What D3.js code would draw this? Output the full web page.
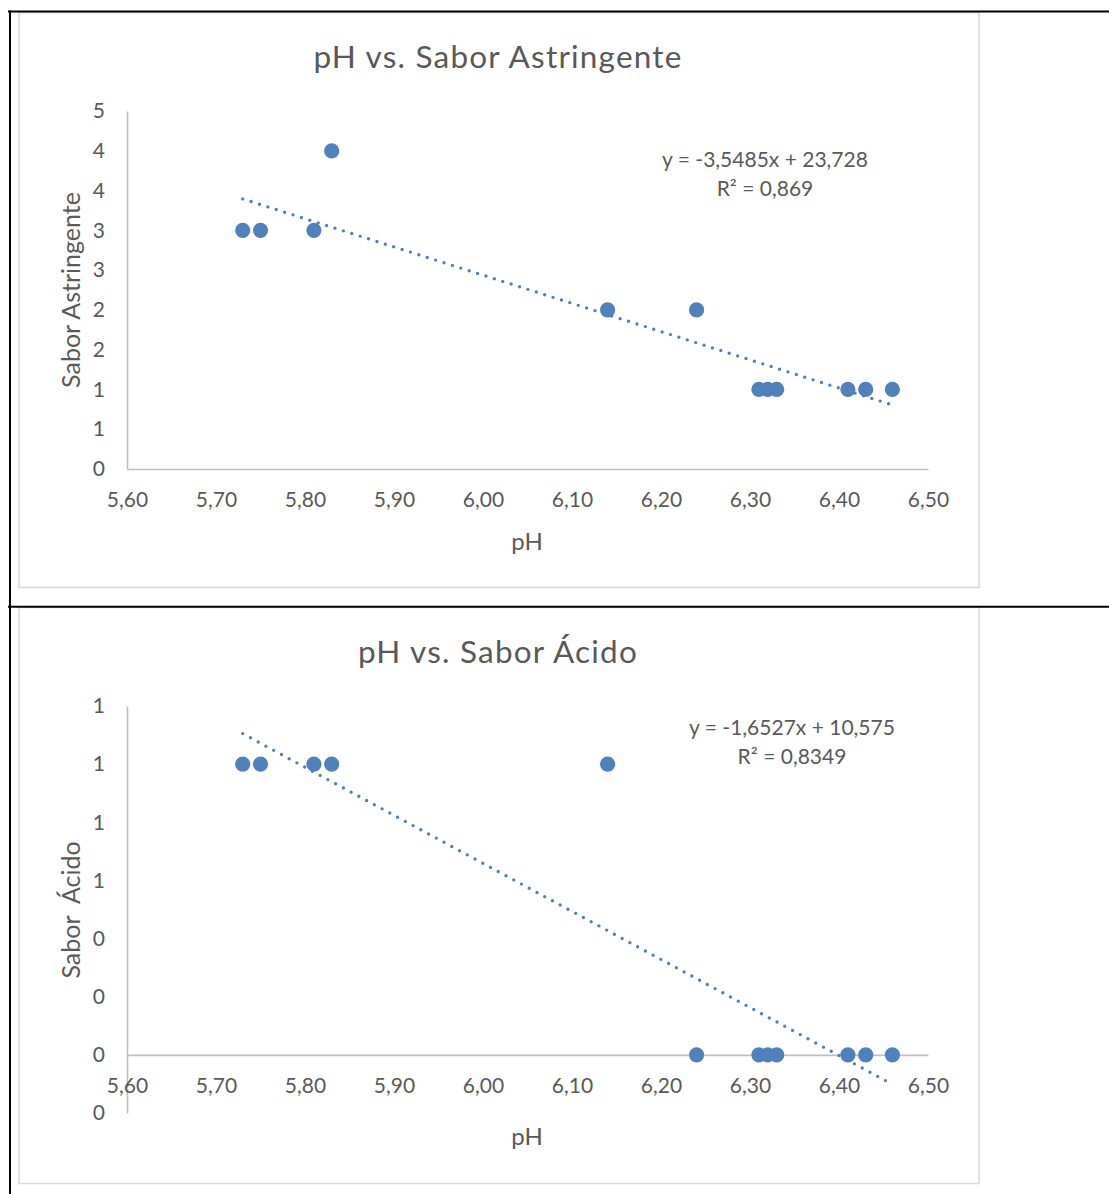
<!DOCTYPE html>
<html>
<head>
<meta charset="utf-8">
<script src="https://cdn.jsdelivr.net/npm/d3@7/dist/d3.min.js"></script>
<style>
  html, body { margin: 0; padding: 0; background: #ffffff; }
  svg { display: block; }
  text { font-family: Lato, "Open Sans", sans-serif; fill: #595959; }
</style>
</head>
<body>
<svg id="page" width="1109" height="1194"></svg>
<script>
// pH readings shared by both tastings
const phValues = [5.73, 5.75, 5.81, 5.83, 6.14, 6.24, 6.31, 6.32, 6.33, 6.41, 6.43, 6.46];

// Panel 1: astringent taste scores
const astringentScores = [3, 3, 3, 4, 2, 2, 1, 1, 1, 1, 1, 1];
const astringentTrend = { slope: -3.5485, intercept: 23.728, r2: "0,869" };
const astringentYTicks = [0, 0.5, 1, 1.5, 2, 2.5, 3, 3.5, 4, 4.5];
const astringentYLabels = ["0", "1", "1", "2", "2", "3", "3", "4", "4", "5"];

// Panel 2: acid taste scores
const acidScores = [1, 1, 1, 1, 1, 0, 0, 0, 0, 0, 0, 0];
const acidTrend = { slope: -1.6527, intercept: 10.575, r2: "0,8349" };
const acidYTicks = [-0.2, 0, 0.2, 0.4, 0.6, 0.8, 1.0, 1.2];
const acidYLabels = ["0", "0", "0", "0", "1", "1", "1", "1"];

// Shared pH axis
const xTicks = [5.6, 5.7, 5.8, 5.9, 6.0, 6.1, 6.2, 6.3, 6.4, 6.5];
const xTickLabels = ["5,60", "5,70", "5,80", "5,90", "6,00", "6,10", "6,20", "6,30", "6,40", "6,50"];

const titles = ["pH vs. Sabor Astringente", "pH vs. Sabor Ácido"];
const yTitles = ["Sabor Astringente", "Sabor  Ácido"];
const xTitle = "pH";

const BLUE = "#4F81BD";
const AXIS = "#bfbfbf";

const svg = d3.select("#page");

// decimal comma formatting used in the equation labels
const comma = v => String(v).replace(".", ",");

function drawPanel(cfg) {
  const g = svg.append("g").attr("transform", `translate(0,${cfg.top})`);

  // chart area frame
  g.append("rect")
    .attr("x", 19).attr("y", 0.5)
    .attr("width", 960).attr("height", cfg.boxH)
    .attr("fill", "#ffffff")
    .attr("stroke", "#d9d9d9").attr("stroke-width", 1.6);

  const x = d3.scaleLinear().domain([5.6, 6.5]).range([127, 928]);
  const y = d3.scaleLinear().domain(cfg.yDomain).range([cfg.plotBottom, cfg.plotTop]);

  // title
  g.append("text")
    .attr("x", 498).attr("y", cfg.titleY)
    .attr("text-anchor", "middle").attr("dominant-baseline", "central")
    .style("font-size", "31.5px").style("letter-spacing", "1.2px")
    .text(cfg.title);

  // y axis
  const yAxis = d3.axisLeft(y)
    .tickValues(cfg.yTicks)
    .tickFormat((d, i) => cfg.yLabels[i])
    .tickSize(0).tickPadding(22);
  const ya = g.append("g").attr("transform", "translate(127,0)").call(yAxis);
  ya.select(".domain").attr("stroke", AXIS).attr("stroke-width", 1.6);
  ya.selectAll("text").style("font-size", "21px").style("font-family", "Lato, sans-serif").attr("fill", "#595959");

  // x axis, crossing at zero
  const xAxis = d3.axisBottom(x)
    .tickValues(xTicks)
    .tickFormat((d, i) => xTickLabels[i])
    .tickSize(0).tickPadding(23);
  const xa = g.append("g").attr("transform", `translate(0,${y(0)})`).call(xAxis);
  xa.select(".domain").attr("stroke", AXIS).attr("stroke-width", 1.6);
  xa.selectAll("text").style("font-size", "21px").style("font-family", "Lato, sans-serif").attr("fill", "#595959");

  // axis titles
  g.append("text")
    .attr("x", 527).attr("y", cfg.xTitleY)
    .attr("text-anchor", "middle").attr("dominant-baseline", "central")
    .style("font-size", "24px")
    .text(xTitle);
  g.append("text")
    .attr("transform", `translate(70,${cfg.yTitleY}) rotate(-90)`)
    .attr("text-anchor", "middle").attr("dominant-baseline", "central")
    .attr("xml:space", "preserve").style("white-space", "pre")
    .style("font-size", "25px")
    .text(cfg.yTitle);

  // points
  const pts = phValues.map((p, i) => ({ p, v: cfg.scores[i] }));
  g.append("g").selectAll("circle")
    .data(pts).join("circle")
    .attr("cx", d => x(d.p)).attr("cy", d => y(d.v))
    .attr("r", 7.6).attr("fill", BLUE);

  // linear trendline over the pH range of the data
  const ext = d3.extent(phValues);
  const trend = ext.map(p => [p, cfg.trend.slope * p + cfg.trend.intercept]);
  g.append("path")
    .attr("d", d3.line().x(d => x(d[0])).y(d => y(d[1]))(trend))
    .attr("fill", "none").attr("stroke", BLUE)
    .attr("stroke-width", 3.4).attr("stroke-linecap", "round")
    .attr("stroke-dasharray", "0 8.8");

  // equation and R²
  const lbl = g.append("text")
    .attr("text-anchor", "middle")
    .style("font-size", "21px");
  lbl.append("tspan")
    .attr("x", cfg.eqX).attr("y", cfg.eqY).attr("dominant-baseline", "central")
    .text(`y = ${comma(cfg.trend.slope)}x + ${comma(cfg.trend.intercept)}`);
  lbl.append("tspan")
    .attr("x", cfg.eqX).attr("y", cfg.eqY + 29).attr("dominant-baseline", "central")
    .text(`R² = ${cfg.trend.r2}`);
}

drawPanel({
  top: 12, boxH: 575,
  yDomain: [0, 4.5], plotTop: 111 - 12, plotBottom: 469 - 12,
  yTicks: astringentYTicks, yLabels: astringentYLabels,
  scores: astringentScores, trend: astringentTrend,
  title: titles[0], yTitle: yTitles[0],
  titleY: 56 - 12, xTitleY: 540 - 12, yTitleY: 290 - 12,
  eqX: 765, eqY: 158 - 12
});

drawPanel({
  top: 607, boxH: 576,
  yDomain: [-0.2, 1.2], plotTop: 706 - 607, plotBottom: 1113 - 607,
  yTicks: acidYTicks, yLabels: acidYLabels,
  scores: acidScores, trend: acidTrend,
  title: titles[1], yTitle: yTitles[1],
  titleY: 651 - 607, xTitleY: 1135 - 607, yTitleY: 910 - 607,
  eqX: 792, eqY: 726 - 607
});

// surrounding table rules
const rules = svg.append("g").attr("stroke", "#000000").attr("stroke-width", 2);
rules.append("line").attr("x1", 8).attr("x2", 1109).attr("y1", 11.5).attr("y2", 11.5);
rules.append("line").attr("x1", 8).attr("x2", 1109).attr("y1", 606.8).attr("y2", 606.8);
rules.append("line").attr("x1", 10).attr("x2", 10).attr("y1", 10.5).attr("y2", 1194);
</script>
</body>
</html>
